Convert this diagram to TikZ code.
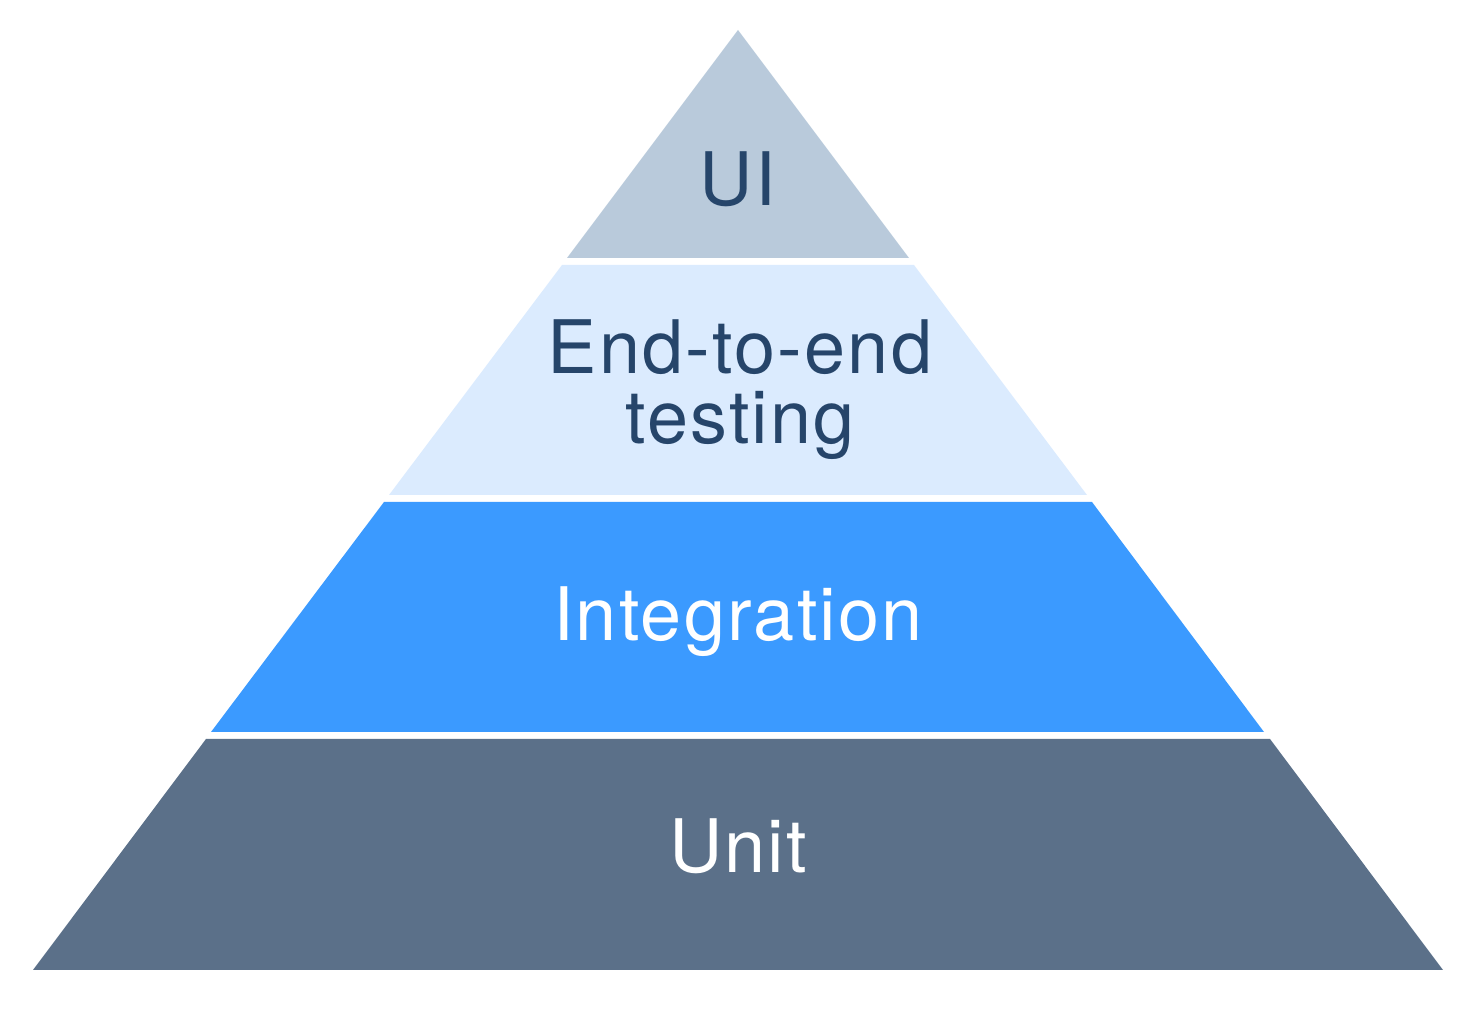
\documentclass[tikz,border=0pt]{standalone}
\usepackage{fontspec}
\setmainfont{TeX Gyre Heros}[LetterSpace=3]
\usepackage{xcolor}
\usepackage{tikz}
\definecolor{uigray}{HTML}{B9CADB}
\definecolor{palesky}{HTML}{DBEBFE}
\definecolor{brightblue}{HTML}{3B9AFF}
\definecolor{slateblue}{HTML}{5B7089}
\definecolor{inkblue}{HTML}{26456A}

\begin{document}
\begin{tikzpicture}[label/.style={align=center, font=\fontsize{21}{20}\selectfont}]
	\useasboundingbox (0,0) rectangle (14.74,10.16);
	
	% bands of the pyramid, top to bottom
	\fill[uigray] (7.38,9.86) -- (9.09,7.58) -- (5.67,7.58) -- cycle;
	
	\fill[palesky] (5.62,7.51) -- (9.14,7.51) -- (10.87,5.21) -- (3.89,5.21) -- cycle;
	
	\fill[brightblue] (3.84,5.14) -- (10.92,5.14) -- (12.64,2.84) -- (2.11,2.84) -- cycle;
	
	\fill[slateblue] (2.06,2.77) -- (12.70,2.77) -- (14.43,0.46) -- (0.33,0.46) -- cycle;
	
	\node[label, text=inkblue] (ui) at (7.38,8.37) {UI};
	
	\node[label, text=inkblue] (e2e) at (7.40,6.26) {End-to-end\\testing};
	
	\node[label, text=white] (integ) at (7.38,3.94) {Integration};
	
	\node[label, text=white] (unit) at (7.38,1.70) {Unit};
\end{tikzpicture}
\end{document}
